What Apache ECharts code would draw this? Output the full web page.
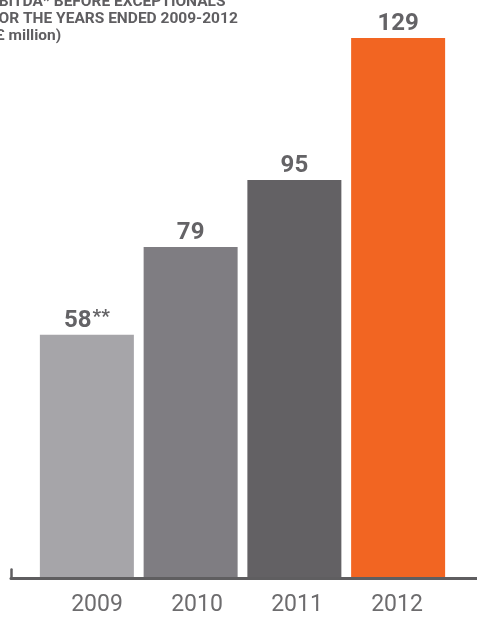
<!DOCTYPE html>
<html>
<head>
<meta charset="utf-8">
<script src="https://cdn.jsdelivr.net/npm/echarts@6/dist/echarts.min.js"></script>
<style>html,body{margin:0;padding:0;background:#fff}#c{width:477px;height:617px}</style>
</head>
<body>
<div id="c"></div>
<script>
const categories = ['2009', '2010', '2011', '2012'];
const values = [58, 79, 95, 129];
const valueSuffix = ['**', '', '', ''];
const barColors = ['#a6a5a9', '#7f7d82', '#636164', '#f26522'];
const titleLines = ['EBITDA* BEFORE EXCEPTIONALS', 'FOR THE YEARS ENDED 2009-2012', '(£ million)'];

const chart = echarts.init(document.getElementById('c'));
const font = 'Roboto';
const hidden = { show: false };
chart.setOption({
  animation: false,
  graphic: titleLines.map((t, i) => ({
    type: 'text', x: -10, y: 2 + i * 17,
    style: { text: t, font: 'bold 15.5px Roboto', fill: '#5f5e61', verticalAlign: 'middle' }
  })),
  grid: [
    { left: 35, right: 27, top: 38, bottom: 40 },
    { left: 11, right: 0, bottom: 38.5, height: 9 },
    { left: 47, right: 30, top: 38, bottom: 40 }
  ],
  xAxis: [
    {
      type: 'category', data: categories, gridIndex: 0,
      axisLine: hidden, axisTick: hidden, axisLabel: hidden
    },
    {
      type: 'value', gridIndex: 1, min: 0, max: 1,
      axisLine: { show: true, lineStyle: { color: '#5f5e60', width: 3 } },
      axisTick: hidden, axisLabel: hidden, splitLine: hidden
    },
    {
      type: 'category', data: categories, gridIndex: 2,
      axisLine: hidden, axisTick: hidden,
      axisLabel: { fontFamily: font, fontSize: 23, color: '#6d6c6e', margin: 19 }
    }
  ],
  yAxis: [
    { type: 'value', gridIndex: 0, min: 0, max: 129, show: false, splitLine: hidden },
    {
      type: 'value', gridIndex: 1, min: 0, max: 1,
      axisLine: { show: true, lineStyle: { color: '#5f5e60', width: 2.5 } },
      axisTick: hidden, axisLabel: hidden, splitLine: hidden
    },
    { type: 'value', gridIndex: 2, min: 0, max: 1, show: false, splitLine: hidden }
  ],
  series: [{
    type: 'bar', xAxisIndex: 0, yAxisIndex: 0,
    barCategoryGap: '9.4%',
    data: values.map((v, i) => ({ value: v, itemStyle: { color: barColors[i] } })),
    label: {
      show: true, position: 'top', distance: 2,
      formatter: p => '{v|' + p.value + '}' + (valueSuffix[p.dataIndex] ? '{s|' + valueSuffix[p.dataIndex] + '}' : ''),
      rich: {
        v: { fontFamily: font, fontWeight: 'bold', fontSize: 24, color: '#646366', verticalAlign: 'bottom' },
        s: { fontFamily: font, fontWeight: 'bold', fontSize: 19, color: '#646366', verticalAlign: 'top', padding: [0, 0, 6, 1] }
      }
    }
  }]
});
</script>
</body>
</html>
